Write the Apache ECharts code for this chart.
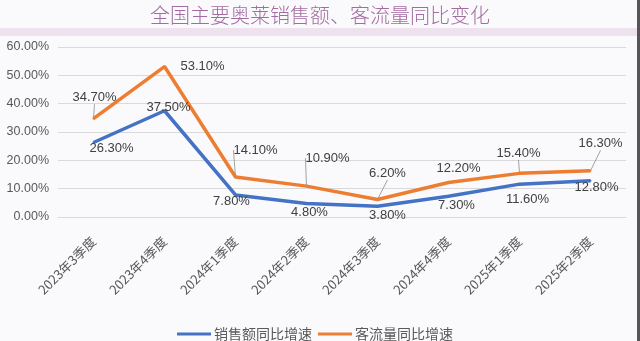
<!DOCTYPE html>
<html><head><meta charset="utf-8">
<script src="https://cdn.jsdelivr.net/npm/echarts@6/dist/echarts.min.js"></script>
<style>html,body{margin:0;padding:0;background:#fafafc;}#c{width:640px;height:341px;}</style>
</head><body><div id="c"></div>
<script>
const categories = ['2023年3季度','2023年4季度','2024年1季度','2024年2季度','2024年3季度','2024年4季度','2025年1季度','2025年2季度'];
const salesYoY = [26.3, 37.5, 7.8, 4.8, 3.8, 7.3, 11.6, 12.8];
const trafficYoY = [34.7, 53.1, 14.1, 10.9, 6.2, 12.2, 15.4, 16.3];
const seriesNames = ['销售额同比增速', '客流量同比增速'];
const titleText = '全国主要奥莱销售额、客流量同比变化';

// label offsets (styling only)
const salesLabelOffsets = [[18,6],[4,-3],[-4,7],[3,9],[10,9],[8,9],[8,15],[6,7]];
const trafficLabelOffsets = [[1,-21],[38,0],[20,-27],[21,-28],[10,-26],[10,-14],[-1,-20],[10,-27]];
const trafficLeader = [true,false,true,true,true,false,true,true];

const chart = echarts.init(document.getElementById('c'), null, {renderer:'canvas'});
const labelFont = {fontFamily:'Liberation Sans, Noto Sans, sans-serif', fontSize:13, color:'#404040'};
function makeSeries(name, values, color, offsets, leaders){
  return {
    name, type:'line',
    data: values.map((v,i)=>({value:v, labelLine:{show:!!(leaders && leaders[i])}})),
    symbol:'circle', symbolSize:2, showSymbol:true,
    lineStyle:{color, width:3.5}, itemStyle:{color},
    label:Object.assign({show:true, position:'inside', formatter:p=>p.value.toFixed(2)+'%'}, labelFont),
    labelLine:{show:!!leaders, lineStyle:{color:'#8c8c8c', width:0.8}, minTurnAngle:0},
    labelLayout:function(p){ const o = offsets[p.dataIndex]; return {dx:o[0], dy:o[1]}; },
    emphasis:{disabled:true}, animation:false
  };
}
const option = {
  backgroundColor:'#fafafc',
  animation:false,
  title:{text:titleText, left:'center', top:0, textStyle:{fontFamily:'Noto Sans CJK SC', fontWeight:300, fontSize:20, color:'#a36ba1'}},
  graphic:[
    {type:'rect', left:0, top:28, shape:{width:640, height:8}, style:{fill:'#efe2ef'}},
    {type:'rect', left:637, top:0, shape:{width:3, height:341}, style:{fill:'#555'}}
  ],
  grid:{left:58, right:14, top:47, bottom:124},
  legend:{
    left:172, top:322, itemWidth:34, itemHeight:3, itemGap:6, icon:'rect',
    textStyle:{fontFamily:'Noto Sans CJK SC', fontSize:14, color:'#595959', padding:[0,0,0,-2]},
    data:seriesNames
  },
  xAxis:{
    type:'category', data:categories, boundaryGap:true,
    axisLine:{show:true, lineStyle:{color:'#d9d9d9'}}, axisTick:{show:false},
    axisLabel:{rotate:45, margin:22, fontFamily:'Noto Sans CJK SC', fontSize:13, color:'#595959', interval:0}
  },
  yAxis:{
    type:'value', min:0, max:60, interval:10,
    axisLine:{show:false}, axisTick:{show:false},
    splitLine:{lineStyle:{color:'#d9d9d9'}},
    axisLabel:{formatter:v=>v.toFixed(2)+'%', fontFamily:'Liberation Sans, sans-serif', fontSize:12.5, color:'#595959', margin:9}
  },
  series:[
    makeSeries(seriesNames[0], salesYoY, '#4472c4', salesLabelOffsets, null),
    makeSeries(seriesNames[1], trafficYoY, '#ed7d31', trafficLabelOffsets, trafficLeader)
  ]
};
chart.setOption(option);
</script></body></html>
